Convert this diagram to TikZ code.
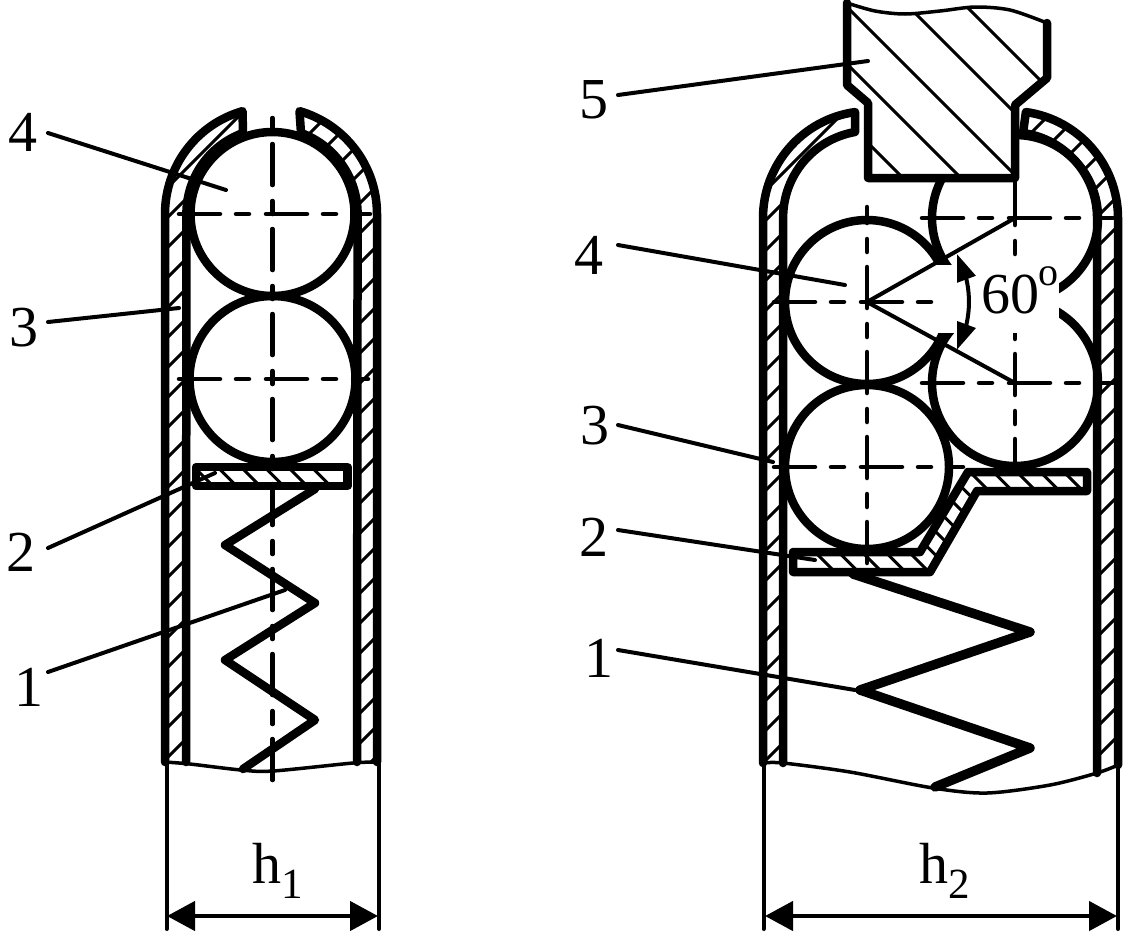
\documentclass[tikz,border=0pt]{standalone}
\usepackage{fontspec}
\setmainfont{Liberation Serif}
\usetikzlibrary{arrows.meta,bending}
\tikzset{
  wall/.style={line width=8.5pt,line join=round,line cap=round},
  hatchline/.style={line width=3pt},
  leader/.style={line width=4pt,line cap=round},
  centerbase/.style={line width=4.5pt,line cap=round},
  centerline/.style={centerbase,dash pattern=on 41pt off 16pt on 13pt off 17pt},
  centervert/.style={centerbase,dash pattern=on 41pt off 16pt on 13pt off 15pt},
  thinline/.style={line width=3.5pt},
  springline/.style={line width=8.5pt,line join=round,line cap=round},
  dimline/.style={line width=4pt,line cap=round},
  dimarrow/.style={line width=4.5pt,{Triangle[length=28pt,width=29pt]}-{Triangle[length=28pt,width=29pt]}},
  lab/.style={inner sep=0pt,font=\fontsize{58}{58}\selectfont},
}
\newcommand{\subtext}[1]{\raisebox{-15pt}{\fontsize{43}{43}\selectfont #1}}
\begin{document}
\begin{tikzpicture}[x=1pt,y=-1pt]
\useasboundingbox (0,0) rectangle (1123,932);
\fill[white] (0,0) rectangle (1123,932);
% ---------- left figure: hatching of the walls
\begin{scope}
\clip (165,762) -- (165,214) arc[start angle=180,end angle=254,radius=107] -- (243,133) arc[start angle=250,end angle=180,radius=86] -- (186,762) -- cycle;
\foreach \c in {355,385,...,930} \draw[hatchline] (100,\c-100) -- (400,\c-400);
\end{scope}
\begin{scope}
\clip (377,762) -- (377,214) arc[start angle=360,end angle=286,radius=107] -- (301,133) arc[start angle=290,end angle=360,radius=86] -- (357,762) -- cycle;
\foreach \c in {443,473,...,1140} \draw[hatchline] (200,\c-200) -- (500,\c-500);
\end{scope}
\draw[wall] (165,762) -- (165,214) arc[start angle=180,end angle=254,radius=107] -- (243,133) arc[start angle=250,end angle=180,radius=86] -- (186,762);
\draw[wall] (377,762) -- (377,214) arc[start angle=360,end angle=286,radius=107] -- (301,133) arc[start angle=290,end angle=360,radius=86] -- (357,762);
\draw[thinline] plot[smooth] coordinates {(165,762) (190,764) (241,770) (273,771) (353,763) (378,762)};
% balls
\draw[wall] (272.5,214) circle[radius=82];
\draw[wall] (272.5,379) circle[radius=83];
% plate
\begin{scope}
\clip (196,467) rectangle (347.5,486);
\foreach \c in {-273,-249.5,...,-150} \draw[hatchline] (150,150-\c) -- (400,400-\c);
\end{scope}
\draw[wall] (196,467) rectangle (347.5,486);
% spring
\draw[springline] (315,489) -- (225,545) -- (315,603) -- (225,660) -- (315,720) -- (243,769);
% centre lines
\coordinate (La) at (272.5,118); \coordinate (Lb) at (272.5,780);
\draw[centervert,dash phase=59pt] (La) -- (Lb);
\coordinate (Lc) at (179,214); \coordinate (Ld) at (370,214);
\draw[centerline] (Lc) -- (Ld);
\coordinate (Le) at (179,379); \coordinate (Lf) at (368,379);
\draw[centerline] (Le) -- (Lf);
% dimension
\coordinate (d1a) at (166.5,762); \coordinate (d1b) at (166.5,929);
\coordinate (d1c) at (379,762); \coordinate (d1d) at (379,929);
\coordinate (d1l) at (167,916); \coordinate (d1r) at (378,916);
\draw[dimline] (d1a) -- (d1b); \draw[dimline] (d1c) -- (d1d);
\draw[dimarrow] (d1l) -- (d1r);
\node[lab,anchor=base west] (h1) at (252,883) {h\subtext{1}};
% labels left
\node[lab] (n4a) at (23,132) {4};
\node[lab] (n3a) at (24,328) {3};
\node[lab] (n2a) at (21,552) {2};
\node[lab] (n1a) at (29,687) {1};
\coordinate (s4a) at (48,133); \coordinate (e4a) at (226,190);
\coordinate (s3a) at (48,322); \coordinate (e3a) at (179,308);
\coordinate (s2a) at (48,548); \coordinate (e2a) at (215,473);
\coordinate (s1a) at (48,672); \coordinate (e1a) at (285,590);
\draw[leader] (s4a) -- (e4a);
\draw[leader] (s3a) -- (e3a);
\draw[leader] (s2a) -- (e2a);
\draw[leader] (s1a) -- (e1a);
% ---------- right figure: hatching of the walls
\begin{scope}
\clip (763,763) -- (763,218) arc[start angle=180,end angle=262,radius=107] -- (855,132) arc[start angle=260,end angle=180,radius=87] -- (783,763) -- cycle;
\foreach \c in {956,986,...,1530} \draw[hatchline] (700,\c-700) -- (900,\c-900);
\end{scope}
\begin{scope}
\clip (1097,773) -- (1118,765) -- (1118,218) arc[start angle=360,end angle=278,radius=107] -- (1023,133) arc[start angle=278,end angle=360,radius=86] -- cycle;
\foreach \c in {1164,1194,...,1895} \draw[hatchline] (950,\c-950) -- (1150,\c-1150);
\end{scope}
\draw[wall] (763,763) -- (763,218) arc[start angle=180,end angle=262,radius=107] -- (855,132) arc[start angle=260,end angle=180,radius=87] -- (783,763);
\draw[wall] (1118,765) -- (1118,218) arc[start angle=360,end angle=278,radius=107] -- (1023,133) arc[start angle=278,end angle=360,radius=86] -- (1097,773);
\draw[thinline] plot[smooth] coordinates {(763,763) (783,763) (850,772) (933,788) (987,793) (1050,785) (1097,773) (1118,765)};
% balls
\draw[wall] (867,302) circle[radius=82];
\draw[wall] (867,467) circle[radius=82];
\draw[wall] (1015,218) circle[radius=83];
\draw[wall] (1015,383) circle[radius=83];
% centre line of the right-hand balls, interrupted by the angle label
\coordinate (Rc) at (1015,178); \coordinate (Rm) at (1015,190);
\coordinate (Rn) at (1015,184); \coordinate (Rd) at (1015,480);
\draw[centerbase] (Rc) -- (Rm);
\draw[centervert] (Rn) -- (Rd);
% gap for the angle
\fill[white] (932,264.5) rectangle (1059,333);
% punch
\fill[white] plot[smooth] coordinates {(847,3) (875,11) (905,14) (940,11) (975,7) (1010,10) (1047,23)} -- (1047,78) -- (1015,105) -- (1015,178) -- (868,178) -- (868,103) -- (847,85) -- cycle;
\begin{scope}
\clip plot[smooth] coordinates {(847,3) (875,11) (905,14) (940,11) (975,7) (1010,10) (1047,23)} -- (1047,78) -- (1015,105) -- (1015,178) -- (868,178) -- (868,103) -- (847,85) -- cycle;
\foreach \c in {725,783,840,902,960} \draw[hatchline] (800,800-\c) -- (1100,1100-\c);
\end{scope}
\draw[wall] (1047,23) -- (1047,78) -- (1015,105) -- (1015,178) -- (868,178) -- (868,103) -- (847,85) -- (847,3);
\draw[thinline] plot[smooth] coordinates {(847,3) (875,11) (905,14) (940,11) (975,7) (1010,10) (1047,23)};
% plate
\fill[white] (793,552) -- (920,552) -- (968,472) -- (1087,472) -- (1087,491) -- (977,491) -- (930,572) -- (793,572) -- cycle;
\begin{scope}
\clip (793,552) -- (920,552) -- (968,472) -- (1087,472) -- (1087,491) -- (977,491) -- (930,572) -- (793,572) -- cycle;
\foreach \c in {263,286.5,...,610} \draw[hatchline] (780,780-\c) -- (1100,1100-\c);
\end{scope}
\draw[wall] (793,552) -- (920,552) -- (968,472) -- (1087,472) -- (1087,491) -- (977,491) -- (930,572) -- (793,572) -- cycle;
% centre line over the plate
\coordinate (Ra) at (867,207); \coordinate (Rb) at (867,563);
\draw[centervert,dash phase=25pt] (Ra) -- (Rb);
% spring
\draw[springline,line width=9.5pt] (853,574) -- (1030,632) -- (860,690) -- (1030,748) -- (935,787);
% centre lines
\coordinate (Re) at (774,302); \coordinate (Rf) at (931,302);
\draw[centerline] (Re) -- (Rf);
\coordinate (Rg) at (774,467); \coordinate (Rh) at (963,467);
\draw[centerline] (Rg) -- (Rh);
\coordinate (Ri) at (922,218); \coordinate (Rj) at (1113,218);
\draw[centerline] (Ri) -- (Rj);
\coordinate (Rk) at (922,383); \coordinate (Rl) at (1113,383);
\draw[centerline] (Rk) -- (Rl);
% radial lines and angle
\coordinate (c60) at (867,302);
\draw[line width=4pt] (c60) -- (Rj -| Rc);
\draw[line width=4pt] (c60) -- (Rl -| Rc);
\draw[line width=4pt,{Triangle[length=27pt,width=19pt]}-{Triangle[length=27pt,width=19pt]}] (957,254) arc[start angle=-28,end angle=28,radius=102];
\node[lab,anchor=base west] (a60) at (981,313) {60};
\node[inner sep=0pt,anchor=base west,font=\fontsize{40}{40}\selectfont] (deg) at (1038,285) {o};
% dimension
\coordinate (d2a) at (763.5,763); \coordinate (d2b) at (763.5,929);
\coordinate (d2c) at (1118,765); \coordinate (d2d) at (1118,929);
\coordinate (d2l) at (765,916); \coordinate (d2r) at (1117,916);
\draw[dimline] (d2a) -- (d2b); \draw[dimline] (d2c) -- (d2d);
\draw[dimarrow] (d2l) -- (d2r);
\node[lab,anchor=base west] (h2) at (919,883) {h\subtext{2}};
% labels right
\node[lab] (n5b) at (594,100) {5};
\node[lab] (n4b) at (589,255) {4};
\node[lab] (n3b) at (595,426) {3};
\node[lab] (n2b) at (594,537) {2};
\node[lab] (n1b) at (599,658) {1};
\coordinate (s5b) at (618,95); \coordinate (e5b) at (868,61);
\coordinate (s4b) at (618,245); \coordinate (e4b) at (845,285);
\coordinate (s3b) at (618,425); \coordinate (e3b) at (773,462);
\coordinate (s2b) at (618,530); \coordinate (e2b) at (815,560);
\coordinate (s1b) at (618,650); \coordinate (e1b) at (855,690);
\draw[leader] (s5b) -- (e5b);
\draw[leader] (s4b) -- (e4b);
\draw[leader] (s3b) -- (e3b);
\draw[leader] (s2b) -- (e2b);
\draw[leader] (s1b) -- (e1b);
\end{tikzpicture}
\end{document}
